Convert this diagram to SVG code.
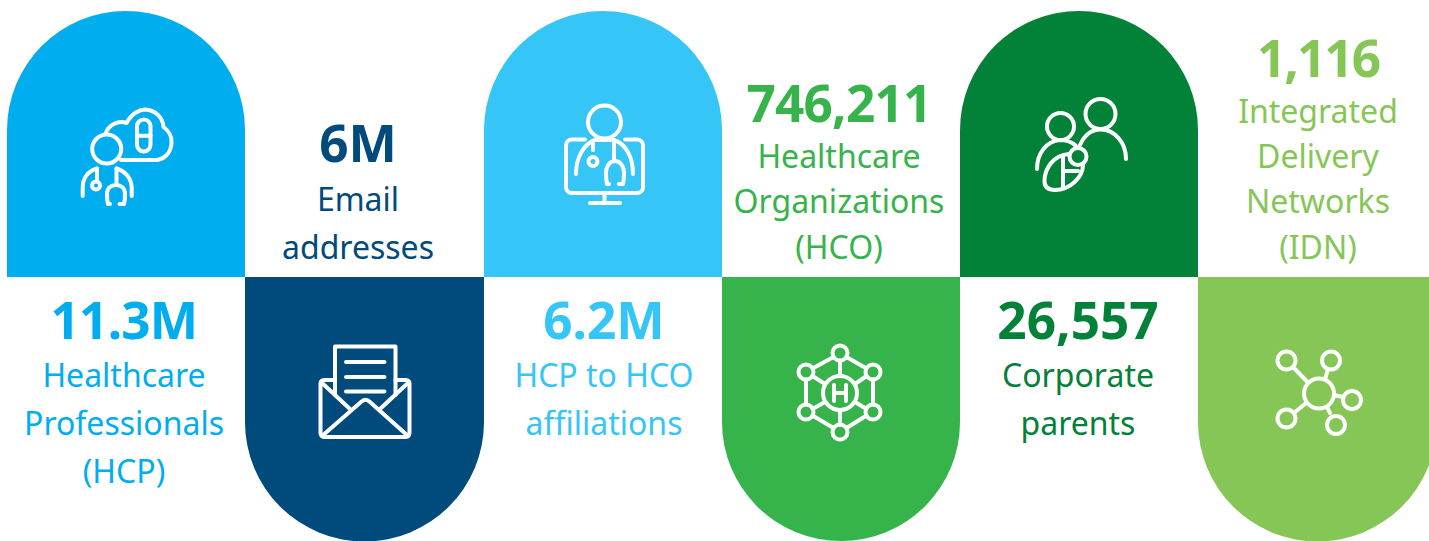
<svg xmlns="http://www.w3.org/2000/svg" width="1429" height="541" viewBox="0 0 1429 541">
<style>
text{font-family:"Noto Sans","Open Sans",sans-serif;text-anchor:middle}
.n{font-size:51.3px;font-weight:700}
.t{letter-spacing:-.8px}
.l{font-size:32px}
.i{fill:none;stroke:#fff;stroke-width:4;stroke-linecap:round;stroke-linejoin:round}
</style>
<rect width="1429" height="541" fill="#fff"/>
<g id="node-hcp">
<path d="M7 277V130A119 119 0 0 1 245 130V277Z" fill="#00adee"/>
<g class="i">
<circle cx="106.7" cy="149" r="14.5"/>
<path d="M105.500 134C108 125 118 120 126.500 123C132 113 140 109.500 145 109.500C156 110 163 118 163.500 127C169 131 172 137 171.500 143C171 153 164 160 155 160H121"/>
<rect x="137" y="119.500" width="13.500" height="32" rx="6.700"/>
<path d="M137 135.700H150.500"/>
<path d="M82.700 196V188C82.700 178 88 171 97 168.500M116.500 168.500C125 171 131.700 178 131.700 188V196"/>
<path d="M97 168.500V181"/>
<circle cx="96" cy="185.500" r="4"/>
<path d="M116.500 168.500V185M110 204H108C107 200 107 197 107 194C107 188 111 185 116 185C121 185 125 188 125 194C125 197 125 200 124 204H119.500"/>
</g>
<text class="n t" x="124" y="339" fill="#00adee">11.3M</text>
<text class="l" x="124" y="387" fill="#00adee">Healthcare</text>
<text class="l" x="124" y="435" fill="#00adee">Professionals</text>
<text class="l" x="124" y="483" fill="#00adee">(HCP)</text>
</g>
<g id="node-email">
<path d="M245 277V422A119.500 119.500 0 0 0 484 422V277Z" fill="#004a7c"/>
<g class="i">
<path d="M335 395V346.500H395.500V395"/>
<path d="M346 362H384.500M346 377H384.500M346 391.500H384.500"/>
<path d="M335 380H324C322 380 320.500 381.500 320.500 383.500V433C320.500 435.500 322 437 324 437H406C408 437 409.500 435.500 409.500 433V383.500C409.500 381.500 408 380 406 380H395.500"/>
<path d="M321 382L350 409M409 382L380 409"/>
<path d="M322 436L361 402C364 399 367 399 370 402L408 436"/>
</g>
<text class="n" x="358" y="162" fill="#004a7c">6M</text>
<text class="l" x="358" y="211" fill="#004a7c">Email</text>
<text class="l" x="358" y="259" fill="#004a7c">addresses</text>
</g>
<g id="node-affiliations">
<path d="M484 277V130A119 119 0 0 1 722 130V277Z" fill="#35c5f6"/>
<g class="i">
<circle cx="604.500" cy="122" r="16.500"/>
<path d="M585 139.500H572C568.500 139.500 566 142 566 145.500V187C566 190.500 568.500 193 572 193H637C640.500 193 643 190.500 643 187V145.500C643 142 640.500 139.500 637 139.500H625"/>
<path d="M576 174C576 157 584 144 595 140H614C626 144 633 157 633 174"/>
<path d="M593 141V150"/>
<circle cx="593" cy="161.500" r="4.500"/>
<path d="M614 140V161M609 184H607C606 180 606 177 606 173C606 166 610 161 615 161C620 161 624 166 624 173C624 177 624 180 623 184H619"/>
<path d="M604.500 193V203M590 203H620"/>
</g>
<text class="n" x="604" y="339" fill="#35c5f6">6.2M</text>
<text class="l" x="604" y="387" fill="#35c5f6">HCP to HCO</text>
<text class="l" x="604" y="435" fill="#35c5f6">affiliations</text>
</g>
<g id="node-hco">
<path d="M722 277V422A119 119 0 0 0 960 422V277Z" fill="#36b34a"/>
<g class="i">
<circle cx="840" cy="353" r="7.500"/>
<circle cx="873" cy="372" r="7.500"/>
<circle cx="873" cy="412" r="7.500"/>
<circle cx="840" cy="432" r="7.500"/>
<circle cx="806" cy="412" r="7.500"/>
<circle cx="806" cy="372" r="7.500"/>
<circle cx="840" cy="393" r="17"/>
<path d="M846.500 357L866.500 368.500M866.500 415.500L846.500 428M833.500 428L812.500 415.500M812.500 368.500L833.500 357"/>
<path d="M873 379.500V404.500M806 379.500V404.500"/>
<path d="M840 360.500V376M840 410V424.500M866.500 376L855 384M825 402L812.500 409M812.500 376L825 384M855 402L866.500 409"/>
<path d="M834 385V401M846 385V401M834 393H846"/>
</g>
<text class="n t" x="839" y="122" fill="#36b34a">746,211</text>
<text class="l" x="839" y="168" fill="#36b34a">Healthcare</text>
<text class="l" x="839" y="213" fill="#36b34a">Organizations</text>
<text class="l" x="839" y="259" fill="#36b34a">(HCO)</text>
</g>
<g id="node-corporate">
<path d="M960 277V130A119 119 0 0 1 1198 130V277Z" fill="#028138"/>
<g class="i">
<circle cx="1100.500" cy="114" r="15"/>
<circle cx="1060.500" cy="126.500" r="13.500"/>
<path d="M1080 145C1085 134 1092 129.500 1100.500 129.500C1115 129.500 1126 143 1126 159"/>
<path d="M1037 169C1037 154 1046 141 1060 140C1066 140 1071 141 1076 146"/>
<circle cx="1078" cy="156.500" r="8.500"/>
<path d="M1069 154C1053 155 1044.500 169 1044.500 181C1044.500 187 1048 190 1055 190C1070 190 1083 177 1083 165"/>
<path d="M1063 156V188M1063 171H1078"/>
</g>
<text class="n" x="1078" y="339" fill="#028138">26,557</text>
<text class="l" x="1078" y="387" fill="#028138">Corporate</text>
<text class="l" x="1078" y="435" fill="#028138">parents</text>
</g>
<g id="node-idn">
<path d="M1198 277V422A119.500 119.500 0 0 0 1437 422V277Z" fill="#86c657"/>
<g class="i">
<circle cx="1319" cy="393.500" r="15"/>
<circle cx="1286.500" cy="360.500" r="9"/>
<circle cx="1331" cy="360.500" r="9"/>
<circle cx="1352" cy="400" r="9"/>
<circle cx="1336" cy="425" r="9"/>
<circle cx="1286.500" cy="418.500" r="9"/>
<path d="M1293 367L1307.500 382M1328 369L1325 379.500M1343 397L1334 395M1330 413L1327 407M1294 413L1306 403"/>
</g>
<text class="n" x="1318" y="77" letter-spacing="-2" fill="#86c657">1,116</text>
<text class="l" x="1318" y="123" fill="#86c657">Integrated</text>
<text class="l" x="1318" y="168" fill="#86c657">Delivery</text>
<text class="l" x="1318" y="213" fill="#86c657">Networks</text>
<text class="l" x="1318" y="259" fill="#86c657">(IDN)</text>
</g>
<g id="connectors"/>
</svg>
